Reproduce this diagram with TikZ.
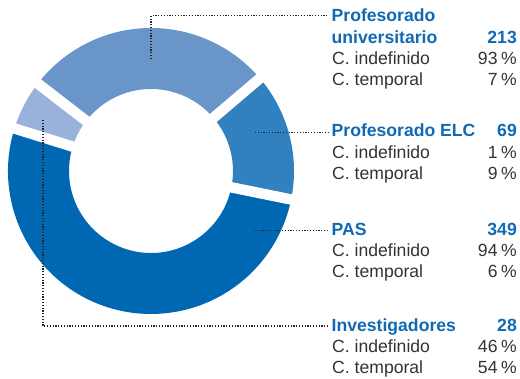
\documentclass[tikz,border=0pt]{standalone}
\usepackage{fontspec}
\setmainfont{Liberation Sans}
\usetikzlibrary{calc}
\definecolor{cuniv}{RGB}{105,149,200}
\definecolor{celc}{RGB}{49,128,192}
\definecolor{cpas}{RGB}{0,104,178}
\definecolor{cinv}{RGB}{153,178,219}
\definecolor{tblue}{RGB}{16,105,178}
\definecolor{tgray}{RGB}{51,51,51}
\newcommand{\pct}{\hspace{3.6pt}\%}
\tikzset{
  gapline/.style={white, line width=10.5pt},
  leader/.style={black!85, line width=1.3pt, dash pattern=on 1.2pt off 1.6pt},
  headtxt/.style={inner sep=0pt, text=tblue, font=\fontsize{17.6}{20}\selectfont\bfseries},
  bodytxt/.style={inner sep=0pt, text=tgray, font=\fontsize{17.6}{20}\selectfont},
}
\begin{document}
\begin{tikzpicture}[x=1pt,y=-1pt]
\useasboundingbox (0,0) rectangle (520,379);
\coordinate (c) at (151,171);
% slices (y axis down: screen angle = -tikz angle)
\fill[cuniv] ($(c)+(-40.4:143)$) arc[start angle=-40.4,end angle=-142.3,radius=143]
  -- ($(c)+(-142.3:82)$) arc[start angle=-142.3,end angle=-40.4,radius=82] -- cycle;
\fill[cinv] ($(c)+(-142.3:143)$) arc[start angle=-142.3,end angle=-162.7,radius=143]
  -- ($(c)+(-162.7:82)$) arc[start angle=-162.7,end angle=-142.3,radius=82] -- cycle;
\fill[cpas] ($(c)+(-162.7:143)$) arc[start angle=-162.7,end angle=-348.5,radius=143]
  -- ($(c)+(-348.5:82)$) arc[start angle=-348.5,end angle=-162.7,radius=82] -- cycle;
\fill[celc] ($(c)+(11.5:143)$) arc[start angle=11.5,end angle=-40.4,radius=143]
  -- ($(c)+(-40.4:82)$) arc[start angle=-40.4,end angle=11.5,radius=82] -- cycle;
\foreach \a in {-40.4,-142.3,-162.7,11.5}
  \draw[gapline] (c) -- ++(\a:150);
% texts
\node[headtxt, anchor=base west] (h1a) at (331.5,21.7) {Profesorado};
\node[headtxt, anchor=base west] (h1b) at (331.5,43.2) {universitario};
\node[headtxt, anchor=base east] (n1) at (517,43.2) {213};
\node[bodytxt, anchor=base west] (a1) at (332,64.7) {C. indefinido};
\node[bodytxt, anchor=base east] (p1a) at (517,64.7) {93\pct};
\node[bodytxt, anchor=base west] (b1) at (332,86) {C. temporal};
\node[bodytxt, anchor=base east] (p1b) at (517,86) {7\pct};

\node[headtxt, anchor=base west] (h2) at (331.5,136.8) {Profesorado ELC};
\node[headtxt, anchor=base east] (n2) at (517,136.8) {69};
\node[bodytxt, anchor=base west] (a2) at (332,158.5) {C. indefinido};
\node[bodytxt, anchor=base east] (p2a) at (517,158.5) {1\pct};
\node[bodytxt, anchor=base west] (b2) at (332,179.7) {C. temporal};
\node[bodytxt, anchor=base east] (p2b) at (517,179.7) {9\pct};

\node[headtxt, anchor=base west] (h3) at (331.5,235.3) {PAS};
\node[headtxt, anchor=base east] (n3) at (517,235.3) {349};
\node[bodytxt, anchor=base west] (a3) at (332,256.5) {C. indefinido};
\node[bodytxt, anchor=base east] (p3a) at (517,256.5) {94\pct};
\node[bodytxt, anchor=base west] (b3) at (332,277.8) {C. temporal};
\node[bodytxt, anchor=base east] (p3b) at (517,277.8) {6\pct};

\node[headtxt, anchor=base west] (h4) at (331.5,331.5) {Investigadores};
\node[headtxt, anchor=base east] (n4) at (517,331.5) {28};
\node[bodytxt, anchor=base west] (a4) at (332,352.5) {C. indefinido};
\node[bodytxt, anchor=base east] (p4a) at (517,352.5) {46\pct};
\node[bodytxt, anchor=base west] (b4) at (332,373.5) {C. temporal};
\node[bodytxt, anchor=base east] (p4b) at (517,373.5) {54\pct};
% leaders
\coordinate (s1) at (151,59);
\coordinate (s2) at (255,132.3);
\coordinate (s3) at (254,230.7);
\coordinate (s4) at (43,120);
\coordinate (e1) at (328,15.7);
\coordinate (e2) at (328,132.3);
\coordinate (e3) at (328,230.7);
\coordinate (e4) at (328,326);
\draw[leader] (s1) |- (e1);
\draw[leader] (s2) -- (e2);
\draw[leader] (s3) -- (e3);
\draw[leader] (s4) |- (e4);
\end{tikzpicture}
\end{document}
